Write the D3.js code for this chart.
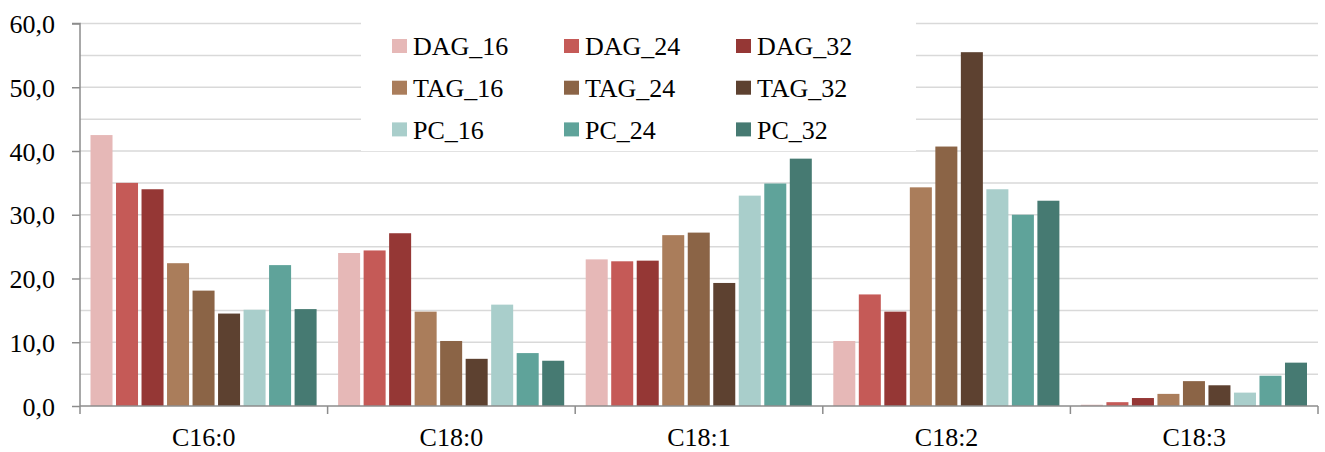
<!DOCTYPE html>
<html><head><meta charset="utf-8">
<script src="https://cdn.jsdelivr.net/npm/d3@7"></script>
<style>body{margin:0;background:#fff}svg{display:block}svg text{font-family:"Liberation Serif","Tinos","Times New Roman",Times,"Noto Serif","DejaVu Serif",serif !important;fill:#000}</style>
</head><body><svg id="c" width="1325" height="452"></svg>
<script>
const categories = ["C16:0","C18:0","C18:1","C18:2","C18:3"];
const seriesNames = ["DAG_16","DAG_24","DAG_32","TAG_16","TAG_24","TAG_32","PC_16","PC_24","PC_32"];
const DAG_16 = [42.5, 24.0, 23.0, 10.2, 0.2];
const DAG_24 = [35.0, 24.4, 22.7, 17.5, 0.6];
const DAG_32 = [34.0, 27.1, 22.8, 14.8, 1.25];
const TAG_16 = [22.4, 14.8, 26.8, 34.3, 1.9];
const TAG_24 = [18.1, 10.2, 27.2, 40.7, 3.9];
const TAG_32 = [14.5, 7.4, 19.3, 55.5, 3.25];
const PC_16 = [15.1, 15.9, 33.0, 34.0, 2.1];
const PC_24 = [22.1, 8.3, 34.9, 30.0, 4.75];
const PC_32 = [15.2, 7.1, 38.8, 32.2, 6.8];
const yTicks = [0,10,20,30,40,50,60];
const colors = ["#e6b8b7","#c55a57","#953735","#aa7d5b","#8b6446","#5d4130","#a9cecb","#5fa39a","#467a72"];

const seriesData = [DAG_16,DAG_24,DAG_32,TAG_16,TAG_24,TAG_32,PC_16,PC_24,PC_32];
const svg = d3.select("#c");
const L = 80, R = 1318, T = 23.5, B = 406;
const FS = "26px";
const y = d3.scaleLinear().domain([0,60]).range([B,T]);
const x0 = d3.scaleBand().domain(categories).range([L,R]).padding(0);
const bw = x0.bandwidth();
const x1 = d3.scaleBand().domain(seriesNames).range([9, bw-9]).padding(0);

svg.append("g").selectAll("line").data(d3.range(5,61,5)).join("line")
  .attr("x1",L).attr("x2",R).attr("y1",d=>y(d)).attr("y2",d=>y(d))
  .attr("stroke","#d9d9d9").attr("stroke-width",1.5);

const g = svg.append("g");
categories.forEach((c,ci)=>{
  seriesNames.forEach((s,si)=>{
    const v = seriesData[si][ci];
    g.append("rect")
      .attr("x", x0(c)+x1(s)+1.5)
      .attr("width", x1.step()-3.5)
      .attr("y", y(v))
      .attr("height", B - y(v))
      .attr("fill", colors[si]);
  });
});

const ya = svg.append("g").attr("transform",`translate(${L},0)`)
  .call(d3.axisLeft(y).tickValues(yTicks).tickSize(8).tickFormat(d=>d3.format(".1f")(d).replace(".",",")));
ya.attr("font-family",null).attr("font-size",null);
ya.select(".domain").attr("stroke","#8c8c8c").attr("stroke-width",1.5).attr("d",`M-8,${T}H0V${B}`);
ya.selectAll(".tick line").attr("stroke","#8c8c8c").attr("stroke-width",1.5);
ya.selectAll(".tick text").attr("x",-25).attr("dy","0.35em").style("font-size",FS).attr("fill","#000");

const xa = svg.append("g").attr("transform",`translate(0,${B})`);
xa.append("line").attr("x1",L).attr("x2",R).attr("y1",0).attr("y2",0).attr("stroke","#8c8c8c").attr("stroke-width",1.5);
const bounds = categories.map(c=>x0(c)).concat([R]);
xa.selectAll("line.t").data(bounds).join("line").attr("class","t")
  .attr("x1",d=>d).attr("x2",d=>d).attr("y1",0).attr("y2",8).attr("stroke","#8c8c8c").attr("stroke-width",1.5);
xa.selectAll("text").data(categories).join("text")
  .attr("x",d=>x0(d)+bw/2).attr("y",40).attr("text-anchor","middle").style("font-size",FS).text(d=>d);

const lg = svg.append("g");
lg.append("rect").attr("x",361).attr("y",22).attr("width",555).attr("height",129).attr("fill","#fff");
seriesNames.forEach((s,i)=>{
  const col = i%3, row = Math.floor(i/3);
  const sx = 392 + col*172, cy = 46 + row*41.7;
  lg.append("rect").attr("x",sx).attr("y",cy-7).attr("width",15).attr("height",14).attr("fill",colors[i]);
  lg.append("text").attr("x",sx+21).attr("y",cy).attr("dy","0.35em").style("font-size",FS).text(s);
});
</script></body></html>
